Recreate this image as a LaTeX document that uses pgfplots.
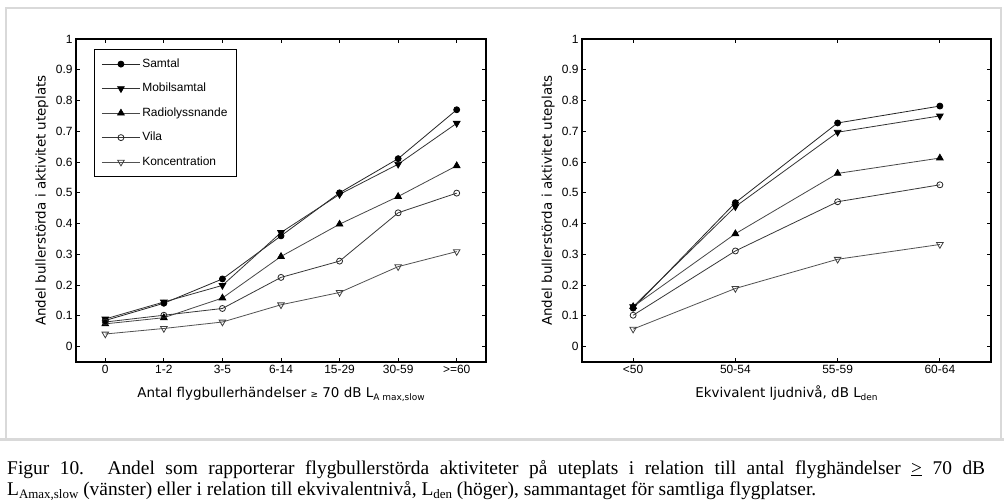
\documentclass[border=0pt]{standalone}
\usepackage{fontspec}
\setmainfont{Liberation Sans}
\newfontfamily\dejavu{DejaVu Sans}
\newfontfamily\capserif{Liberation Serif}
\usepackage{pgfplots}
\pgfplotsset{compat=1.18}
\definecolor{framegray}{HTML}{D9D9D9}
\newcommand{\lsub}[1]{\raisebox{-0.45ex}{\fontsize{9}{10}\selectfont #1}}
\newcommand{\csub}[1]{\raisebox{-0.35ex}{\fontsize{13}{14}\selectfont #1}}

\pgfplotsset{
  myax/.style={
    scale only axis,
    height=323bp,
    ymin=-0.05, ymax=1,
    ytick={0,0.1,0.2,0.3,0.4,0.5,0.6,0.7,0.8,0.9,1},
    yticklabels={0,0.1,0.2,0.3,0.4,0.5,0.6,0.7,0.8,0.9,1},
    tick align=inside,
    xtick pos=both, ytick pos=both,
    major tick length=4bp,
    axis line style={black, line width=1.1bp},
    tick style={black, line width=0.8bp},
    tick label style={font=\fontsize{12}{14}\selectfont},
    ylabel={Andel bullerstörda i aktivitet uteplats},
    ylabel style={font=\dejavu\fontsize{13.5}{16}\selectfont, anchor=center},
    xlabel style={font=\dejavu\fontsize{13.5}{16}\selectfont, anchor=base, at={(axis description cs:0.5,-0.1084)}},
    every axis plot/.append style={line width=0.8bp},
  },
  samtal/.style={color=black!85, mark=*, mark size=3bp, mark options={solid, fill=black, draw=black}},
  mobil/.style={color=black!80, mark=triangle*, mark size=3.8bp, mark options={solid, fill=black, draw=black, rotate=180}},
  radio/.style={color=black!72, mark=triangle*, mark size=3.8bp, mark options={solid, fill=black, draw=black}},
  vila/.style={color=black!78, mark=o, mark size=3bp, mark options={solid, fill=white, draw=black!85}},
  konc/.style={color=black!68, mark=triangle, mark size=3.8bp, mark options={solid, fill=white, draw=black!75, rotate=180}},
}

\begin{document}
\begin{tikzpicture}
\path[use as bounding box] (0,0) rectangle (1004bp,500bp);
\fill[white] (0,0) rectangle (1004bp,500bp);
% frame
\draw[framegray, line width=2.2bp] (6bp,60bp) -- (6bp,492bp) -- (1001bp,492bp) -- (1001bp,60bp);
\draw[framegray, line width=3bp] (0bp,60bp) -- (1004bp,60bp);

% left axis
\begin{axis}[myax,
  at={(76bp,138bp)}, anchor=south west,
  width=410bp,
  xmin=-0.5, xmax=6.5,
  xtick={0,1,2,3,4,5,6},
  xticklabels={0,1-2,3-5,6-14,15-29,30-59,>=60},
  ylabel style={at={(axis description cs:-0.083,0.5)}},
  xlabel={Antal flygbullerhändelser {\fontsize{9}{10}\selectfont ≥} 70 dB L\lsub{A max,slow}},
  legend style={at={(axis description cs:0.0439,0.969)}, anchor=north west,
    draw=black, line width=1.1bp, fill=white,
    font=\fontsize{12}{14}\selectfont,
    inner sep=7bp, row sep=9.4bp,
    nodes={inner sep=2bp, text height=8.6bp, text depth=2.5bp}},
  legend cell align=left,
  legend image code/.code={\draw[mark repeat=2,mark phase=2,#1] plot coordinates {(0bp,0bp) (19bp,0bp) (38bp,0bp)};},
]
\addplot[samtal] coordinates {(0,0.085) (1,0.141) (2,0.220) (3,0.360) (4,0.500) (5,0.611) (6,0.770)};
\addlegendentry{Samtal}
\addplot[mobil] coordinates {(0,0.090) (1,0.145) (2,0.199) (3,0.371) (4,0.495) (5,0.593) (6,0.726)};
\addlegendentry{Mobilsamtal}
\addplot[radio] coordinates {(0,0.074) (1,0.094) (2,0.158) (3,0.293) (4,0.398) (5,0.488) (6,0.588)};
\addlegendentry{Radiolyssnande}
\addplot[vila] coordinates {(0,0.080) (1,0.102) (2,0.124) (3,0.225) (4,0.278) (5,0.435) (6,0.499)};
\addlegendentry{Vila}
\addplot[konc] coordinates {(0,0.041) (1,0.059) (2,0.080) (3,0.136) (4,0.176) (5,0.260) (6,0.309)};
\addlegendentry{Koncentration}
\end{axis}

% right axis
\begin{axis}[myax,
  at={(582bp,138bp)}, anchor=south west,
  width=409bp,
  xmin=-0.5, xmax=3.5,
  xtick={0,1,2,3},
  xticklabels={<50,50-54,55-59,60-64},
  ylabel style={at={(axis description cs:-0.083,0.5)}},
  xlabel={Ekvivalent ljudnivå, dB L\lsub{den}},
]
\addplot[samtal] coordinates {(0,0.125) (1,0.468) (2,0.727) (3,0.782)};
\addplot[mobil] coordinates {(0,0.130) (1,0.455) (2,0.697) (3,0.750)};
\addplot[radio] coordinates {(0,0.130) (1,0.367) (2,0.563) (3,0.613)};
\addplot[vila] coordinates {(0,0.102) (1,0.311) (2,0.471) (3,0.526)};
\addplot[konc] coordinates {(0,0.057) (1,0.189) (2,0.284) (3,0.332)};
\end{axis}

% caption
\node[anchor=base west, inner sep=0pt, font=\capserif\fontsize{19.5}{22}\selectfont] at (7bp,26bp)
  {\makebox[978bp][s]{Figur 10. Andel som rapporterar flygbullerstörda aktiviteter på uteplats i relation till antal flyghändelser \underline{>} 70 dB}};
\node[anchor=base west, inner sep=0pt, font=\capserif\fontsize{19.5}{22}\selectfont] at (7bp,5bp)
  {L\csub{Amax,slow} (vänster) eller i relation till ekvivalentnivå, L\csub{den} (höger), sammantaget för samtliga flygplatser.};
\end{tikzpicture}
\end{document}
